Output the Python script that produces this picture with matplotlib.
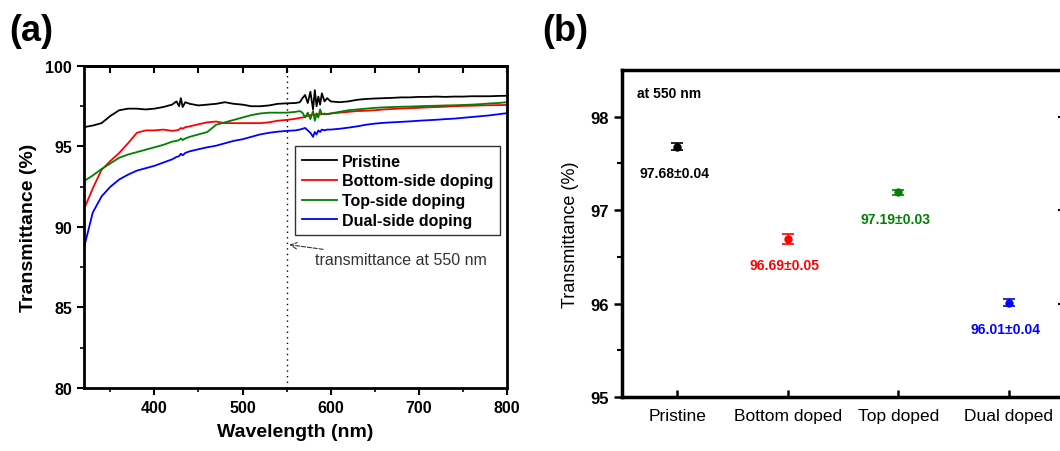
import numpy as np
import matplotlib
matplotlib.use('Agg')
import matplotlib.pyplot as plt

plt.rcParams['font.family'] = ['Liberation Sans', 'DejaVu Sans']

# ============================
# Data: (a) transmittance spectra
# ============================

wavelength = [320, 330, 340, 350, 360, 370, 380, 390, 400, 410, 420,
              425, 428, 430, 432, 435,
              440, 450, 460, 470, 480, 490, 500, 510, 520, 530, 540, 550, 560,
              565, 568, 571, 574, 577, 580, 582, 584, 586, 588, 590, 593, 596,
              600, 610, 620, 630, 640, 650, 660, 670, 680, 690, 700,
              710, 720, 730, 740, 750, 760, 770, 780, 790, 800]

pristine = [96.2, 96.3, 96.45, 96.9, 97.25, 97.35, 97.35, 97.3, 97.35, 97.45, 97.6,
            97.8, 97.5, 98.0, 97.45, 97.75,
            97.65, 97.55, 97.6, 97.65, 97.75, 97.65, 97.6, 97.5, 97.5, 97.55, 97.65, 97.68, 97.7,
            97.75, 98.0, 98.2, 97.7, 98.4, 97.3, 98.5, 97.5, 98.1, 97.6, 98.3, 97.8, 98.0,
            97.8, 97.75, 97.8, 97.9, 97.95, 97.98, 98.0, 98.02, 98.05, 98.05, 98.08,
            98.08, 98.1, 98.08, 98.1, 98.1, 98.12, 98.12, 98.12, 98.14, 98.15]

bottom_side = [91.1, 92.4, 93.55, 94.1, 94.6, 95.2, 95.85, 96.0, 96.0, 96.05, 95.97,
               96.0, 96.05, 96.15, 96.1, 96.2,
               96.25, 96.38, 96.5, 96.55, 96.45, 96.45, 96.45, 96.45, 96.45, 96.5, 96.6, 96.65, 96.72,
               96.78, 96.8, 96.85, 96.9, 96.95, 97.0, 96.95, 97.05, 96.98, 97.0, 97.02, 97.0, 97.02,
               97.05, 97.1, 97.15, 97.2, 97.22, 97.25, 97.3, 97.33, 97.36, 97.38, 97.4,
               97.43, 97.45, 97.47, 97.5, 97.52, 97.53, 97.55, 97.56, 97.57, 97.58]

top_side = [92.85, 93.2, 93.6, 93.95, 94.3, 94.5, 94.65, 94.8, 94.95, 95.1, 95.3,
            95.35, 95.4, 95.5, 95.4, 95.5,
            95.6, 95.75, 95.9, 96.35, 96.5, 96.65, 96.8, 96.95, 97.05, 97.1, 97.1, 97.1, 97.15,
            97.2, 97.1, 96.8, 97.1, 96.7, 97.2, 96.6, 97.0, 96.8, 97.3, 97.0, 97.05, 97.0,
            97.05, 97.15, 97.25, 97.3, 97.35, 97.4, 97.43, 97.45, 97.47, 97.48, 97.5,
            97.52, 97.53, 97.55, 97.56, 97.58, 97.6, 97.63, 97.67, 97.7, 97.75]

dual_side = [88.7, 90.9, 91.9, 92.5, 92.95, 93.25, 93.5, 93.65, 93.8, 94.0, 94.2,
             94.35, 94.4, 94.55, 94.45, 94.6,
             94.7, 94.83, 94.95, 95.05, 95.2, 95.35, 95.45, 95.6, 95.75, 95.85, 95.92, 95.97, 96.0,
             96.05, 96.1, 96.15, 96.0, 95.85, 95.6, 95.9, 95.75, 96.0, 95.9, 96.05, 96.0, 96.05,
             96.05, 96.1, 96.17, 96.25, 96.35, 96.42, 96.47, 96.5, 96.53, 96.56, 96.6,
             96.63, 96.66, 96.7, 96.73, 96.78, 96.83, 96.88, 96.93, 97.0, 97.07]

spectra_labels = ['Pristine', 'Bottom-side doping', 'Top-side doping', 'Dual-side doping']
colors = ['black', '#ff0000', '#008000', '#0000ff']

# ============================
# Data: (b) transmittance at 550 nm
# ============================

samples = ['Pristine', 'Bottom doped', 'Top doped', 'Dual doped']
t550 = [97.68, 96.69, 97.19, 96.01]
t550_err = [0.04, 0.05, 0.03, 0.04]

# ============================
# Figure
# ============================

fig = plt.figure(figsize=(10.6, 4.52), dpi=100)

# ---------- (a) ----------
ax1 = fig.add_axes([0.0792, 0.1394, 0.399, 0.7124])
for ys, lab, c in zip([pristine, bottom_side, top_side, dual_side], spectra_labels, colors):
    ax1.plot(wavelength, ys, color=c, lw=1.3, label=lab)

ax1.axvline(550, color='black', ls=(0, (1, 3)), lw=1.0)
ax1.set_xlim(320, 800)
ax1.set_ylim(80, 100)
ax1.set_xticks([400, 500, 600, 700, 800])
ax1.set_xticks(np.arange(350, 800, 50), minor=True)
ax1.set_yticks([80, 85, 90, 95, 100])
ax1.set_yticks(np.arange(82.5, 100, 2.5), minor=True)
ax1.tick_params(which='major', direction='out', length=5, width=1.5, labelsize=11.5)
ax1.tick_params(which='minor', direction='out', length=3, width=1.2)
for lab in ax1.get_xticklabels() + ax1.get_yticklabels():
    lab.set_fontweight('bold')
for sp in ax1.spines.values():
    sp.set_linewidth(2)

top1 = ax1.secondary_xaxis('top')
top1.set_xticks([400, 500, 600, 700, 800])
top1.set_xticks(np.arange(350, 800, 50), minor=True)
top1.tick_params(which='both', direction='in', length=5, width=1.5, labeltop=False)
top1.spines['top'].set_linewidth(2)

ax1.set_xlabel('Wavelength (nm)', fontsize=14, fontweight='bold', labelpad=6)
ax1.set_ylabel('Transmittance (%)', fontsize=14, fontweight='bold', labelpad=6)

leg = ax1.legend(loc='upper left', bbox_to_anchor=(0.498, 0.75),
                 prop={'weight': 'bold', 'size': 11.5}, frameon=True, fancybox=False,
                 edgecolor='black', handlelength=2.2, handletextpad=0.3,
                 labelspacing=0.3, borderpad=0.45, borderaxespad=0)
leg.get_frame().set_linewidth(1.0)

ax1.annotate('transmittance at 550 nm', xy=(553, 88.9), xytext=(582, 87.95),
             fontsize=11.5, color='#333333', va='center', ha='left',
             arrowprops=dict(arrowstyle='->', color='#333333', ls='--', lw=0.8,
                             shrinkA=2, shrinkB=0))

fig.text(0.009, 0.93, '(a)', fontsize=26, fontweight='bold', va='center', ha='left')

# ---------- (b) ----------
ax2 = fig.add_axes([0.5868, 0.1195, 0.417, 0.7235])
xpos = np.arange(len(samples))
for i in range(len(samples)):
    ax2.errorbar(xpos[i], t550[i], yerr=t550_err[i], fmt='o', color=colors[i],
                 ms=5, capsize=4, elinewidth=1.2, capthick=1.2)
    ax2.annotate(f'{t550[i]:.2f}\u00b1{t550_err[i]:.2f}', xy=(xpos[i], t550[i]),
                 xytext=(-2, -19), textcoords='offset points', ha='center', va='center',
                 fontsize=10, fontweight='bold', color=colors[i])

ax2.set_xlim(-0.5, 3.5)
ax2.set_ylim(95, 98.5)
ax2.set_xticks(xpos)
ax2.set_xticklabels(samples, fontsize=12.5)
ax2.set_yticks([95, 96, 97, 98])
ax2.set_yticks([95.5, 96.5, 97.5], minor=True)
ax2.tick_params(axis='y', which='major', direction='out', length=6, width=1.8, labelsize=12)
ax2.tick_params(axis='y', which='minor', direction='out', length=3.5, width=1.5)
ax2.tick_params(axis='x', which='major', direction='in', length=5, width=1.8, pad=8)
for lab in ax2.get_yticklabels():
    lab.set_fontweight('bold')
for sp in ax2.spines.values():
    sp.set_linewidth(2.5)

right2 = ax2.secondary_yaxis('right')
right2.set_yticks([95, 96, 97, 98])
right2.tick_params(direction='in', length=4, width=1.5, labelright=False)

ax2.set_ylabel('Transmittance (%)', fontsize=13, labelpad=8)
ax2.text(0.035, 0.93, 'at 550 nm', transform=ax2.transAxes, fontsize=10,
         fontweight='bold', ha='left', va='center')

fig.text(0.512, 0.93, '(b)', fontsize=26, fontweight='bold', va='center', ha='left')

plt.savefig('out.png', dpi=100)
